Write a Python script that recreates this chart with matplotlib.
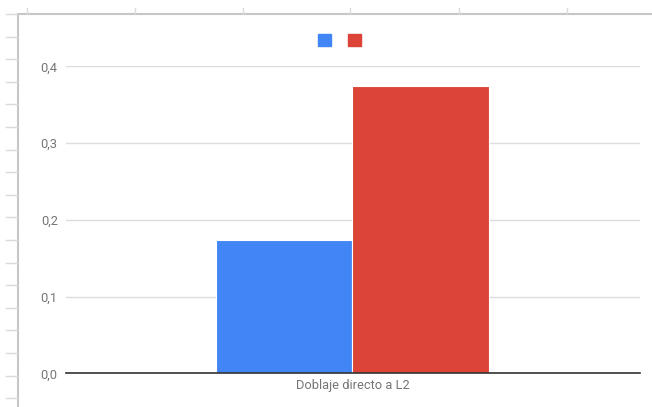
import matplotlib.pyplot as plt
from matplotlib.patches import Patch
from matplotlib.lines import Line2D

# Data
categories = ["Doblaje directo a L2"]
series_a = [0.174]
series_b = [0.374]
yticks = [0.0, 0.1, 0.2, 0.3, 0.4]

blue = "#4285F4"
red = "#DB4437"

plt.rcParams['font.family'] = ['Roboto', 'DejaVu Sans']

W, H = 652, 407
fig = plt.figure(figsize=(W / 100, H / 100), dpi=100)

# spreadsheet frame behind the chart
frame_c = "#c6c6c6"
fig.add_artist(Line2D([18 / W, 1], [1 - 14 / H] * 2, color=frame_c, lw=1.5))
fig.add_artist(Line2D([18 / W] * 2, [1 - 14 / H, 0], color=frame_c, lw=1.5))
for i in range(6):
    xx = 26.5 + 108 * i
    fig.add_artist(Line2D([xx / W] * 2, [1 - 8 / H, 1 - 14 / H], color="#dadada", lw=1))
for i in range(18):
    yy = 14 + 22.6 * i
    fig.add_artist(Line2D([6 / W, 17 / W], [1 - yy / H] * 2, color="#dadada", lw=1))

# plot area
left, right, top, bottom = 66, 640, 66.3, 373.3
ax = fig.add_axes([left / W, 1 - bottom / H, (right - left) / W, (bottom - top) / H])

x = range(len(categories))
w = 0.4994
ax.bar([i - w / 2 for i in x], series_a, width=w, color=blue, edgecolor="white", linewidth=0.8, zorder=3)
ax.bar([i + w / 2 for i in x], series_b, width=w, color=red, edgecolor="white", linewidth=0.8, zorder=3)

ax.set_xlim(-1.0476, 1.0524)
ax.set_ylim(0, 0.4)
ax.set_yticks(yticks)
ax.set_yticklabels([f"{v:.1f}".replace(".", ",") for v in yticks])
ax.set_xticks(list(x))
ax.set_xticklabels(categories)
ax.tick_params(axis='both', length=0, colors="#757575", labelsize=9.3)
ax.tick_params(axis='y', pad=6)
ax.tick_params(axis='x', pad=4)
ax.grid(axis='y', color="#dcdcdc", lw=1, zorder=0)
for s in ["top", "right", "left"]:
    ax.spines[s].set_visible(False)
ax.spines["bottom"].set_color("#333333")
ax.spines["bottom"].set_linewidth(1.2)
ax.spines["bottom"].set_zorder(4)

handles = [Patch(color=blue), Patch(color=red)]
ax.legend(handles, ["", ""], ncol=2, loc="center", bbox_to_anchor=(339.3 / W, 1 - 40.5 / H),
          bbox_transform=fig.transFigure, frameon=False, fontsize=9,
          handlelength=1.04, handleheight=1.04, handletextpad=0.0, columnspacing=1.36)

fig.savefig("out.png", dpi=100)
